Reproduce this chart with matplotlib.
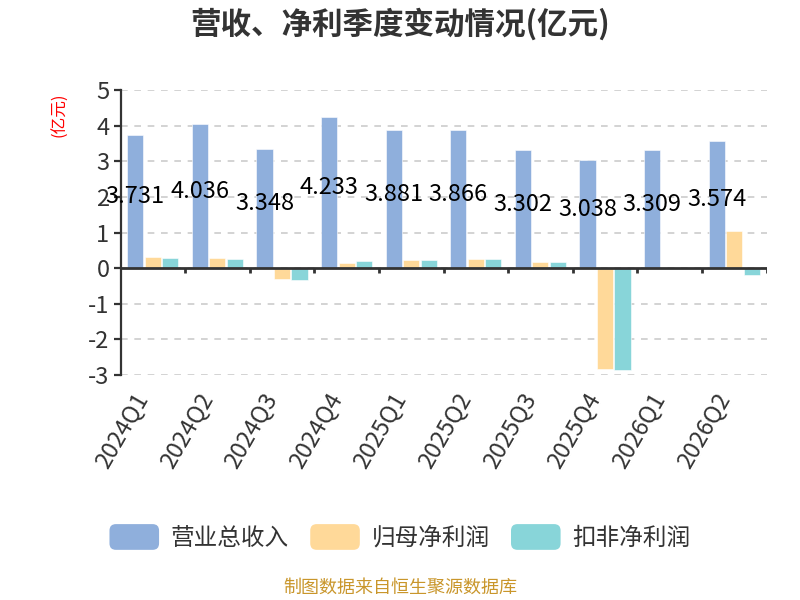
import numpy as np
import matplotlib
matplotlib.use("Agg")
import matplotlib.pyplot as plt
from matplotlib.patches import FancyBboxPatch, Patch
from matplotlib.legend_handler import HandlerPatch

plt.rcParams['font.family'] = ['Noto Sans CJK SC', 'DejaVu Sans']
plt.rcParams['axes.unicode_minus'] = False

quarters = ['2024Q1', '2024Q2', '2024Q3', '2024Q4', '2025Q1',
            '2025Q2', '2025Q3', '2025Q4', '2026Q1', '2026Q2']
revenue = [3.731, 4.036, 3.348, 4.233, 3.881, 3.866, 3.302, 3.038, 3.309, 3.574]
net_profit = [0.32, 0.29, -0.31, 0.15, 0.24, 0.25, 0.18, -2.82, np.nan, 1.04]
deducted_profit = [0.28, 0.27, -0.33, 0.19, 0.24, 0.27, 0.17, -2.85, np.nan, -0.18]
series_names = ['营业总收入', '归母净利润', '扣非净利润']
colors = ['#8FAFDC', '#FFD999', '#88D5D9']


class RoundHandler(HandlerPatch):
    def create_artists(self, legend, orig_handle, xdescent, ydescent,
                       width, height, fontsize, trans):
        p = FancyBboxPatch((-xdescent, -ydescent), width, height,
                           boxstyle=f"round,pad=0,rounding_size={height * 0.25}",
                           facecolor=orig_handle.get_facecolor(),
                           edgecolor='none', transform=trans)
        return [p]


fig = plt.figure(figsize=(8, 6), dpi=100)
ax = fig.add_axes([120.5 / 800, 1 - 375 / 600, 646 / 800, 285 / 600])

x = np.arange(len(quarters))
w = 0.25
offs = [-0.272, 0.0, 0.272]
for vals, off, c in zip([revenue, net_profit, deducted_profit], offs, colors):
    ax.bar(x + off, vals, width=w, color=c, edgecolor='white', linewidth=0.4, zorder=3)

for xi, v in zip(x, revenue):
    ax.text(xi + offs[0], v / 2 + 0.14, f"{v:.3f}", ha='center', va='center',
            fontsize=17, color='black', zorder=5)

ax.set_xlim(-0.5, len(quarters) - 0.5)
ax.set_ylim(-3, 5)
ax.set_yticks(range(-3, 6))
ax.grid(axis='y', color='#cccccc', linestyle=(0, (4, 4)), linewidth=1.2, zorder=0)
ax.grid(axis='x', visible=False)

for s in ['top', 'right', 'bottom']:
    ax.spines[s].set_visible(False)
ax.spines['left'].set_color('#333333')
ax.spines['left'].set_linewidth(1.6)
ax.tick_params(axis='y', length=5, width=1.6, color='#333333', labelsize=17,
               labelcolor='#333333', pad=3)

# zero line with category boundary ticks
ax.axhline(0, color='#333333', linewidth=2, zorder=4)
bounds = np.arange(len(quarters) + 1) - 0.5
ax.vlines(bounds[1:], -0.15, 0, color='#333333', linewidth=2, zorder=4)

ax.set_xticks(x)
ax.set_xticklabels(quarters, rotation=60, ha='right', va='top')
ax.tick_params(axis='x', length=0, labelsize=17, labelcolor='#333333', pad=10)

fig.text(0.5, 1 - 24 / 600, '营收、净利季度变动情况(亿元)', ha='center', va='center',
         fontsize=22, fontweight='bold', color='#333333')
fig.text(60 / 800, 1 - 115 / 600, '(亿元)', rotation=90, ha='center', va='center',
         fontsize=12, color='red')

handles = [Patch(facecolor=c) for c in colors]
fig.legend(handles, series_names, loc='center', bbox_to_anchor=(0.5, 1 - 537 / 600),
           ncol=3, frameon=False, fontsize=17, handlelength=2.1, handleheight=1.3,
           handletextpad=0.5, columnspacing=0.9, labelcolor='#333333',
           handler_map={Patch: RoundHandler()})

fig.text(0.5, 1 - 588 / 600, '制图数据来自恒生聚源数据库', ha='center', va='center',
         fontsize=13, color='#C9962B')

fig.savefig('out.png', dpi=100)
